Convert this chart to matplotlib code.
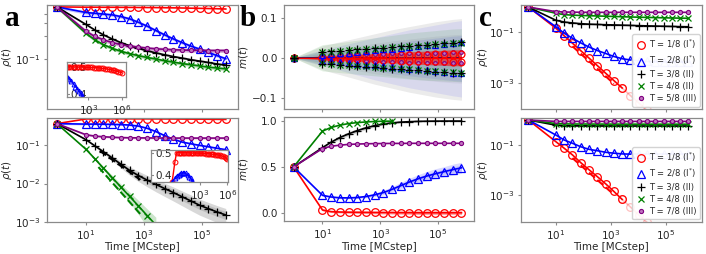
import numpy as np
import matplotlib
matplotlib.use("Agg")
import matplotlib.pyplot as plt
from matplotlib.lines import Line2D
from matplotlib.ticker import FixedLocator, NullLocator

nan = np.nan

# ---------------- data ----------------
time_steps = [1, 10, 20, 40, 80, 160, 320, 640, 1280, 2560, 5120, 10240,
              20480, 40960, 81920, 163840, 327680, 655360]

# panel a (top): rho(t)
a_top_red = [0.5, 0.495, 0.495, 0.494, 0.494, 0.493, 0.492, 0.491, 0.49, 0.489,
             0.487, 0.485, 0.483, 0.48, 0.478, 0.475, 0.472, 0.468]
a_top_blue = [0.5, 0.42, 0.41, 0.40, 0.39, 0.37, 0.345, 0.31, 0.275, 0.24,
              0.21, 0.185, 0.165, 0.148, 0.135, 0.122, 0.11, 0.10]
a_top_black = [0.5, 0.29, 0.245, 0.21, 0.185, 0.165, 0.15, 0.138, 0.128, 0.12,
               0.113, 0.107, 0.102, 0.097, 0.093, 0.089, 0.085, 0.082]
a_top_green = [0.5, 0.22, 0.18, 0.155, 0.138, 0.126, 0.117, 0.11, 0.104, 0.099,
               0.094, 0.09, 0.086, 0.083, 0.08, 0.077, 0.075, 0.073]
a_top_purple = [0.5, 0.235, 0.2, 0.18, 0.165, 0.155, 0.148, 0.143, 0.139, 0.136,
                0.134, 0.132, 0.131, 0.13, 0.13, 0.129, 0.129, 0.129]

# panel a (bottom)
a_bot_red = [0.37, 0.49, 0.495, 0.495, 0.495, 0.495, 0.494, 0.494, 0.493, 0.492,
             0.491, 0.49, 0.488, 0.486, 0.484, 0.482, 0.48, 0.478]
a_bot_blue = [0.37, 0.36, 0.36, 0.358, 0.355, 0.35, 0.34, 0.32, 0.28, 0.23,
              0.18, 0.145, 0.122, 0.11, 0.1, 0.092, 0.084, 0.077]
a_bot_purple = [0.37, 0.19, 0.175, 0.168, 0.163, 0.16, 0.158, 0.157, 0.156, 0.156,
                0.155, 0.155, 0.155, 0.155, 0.155, 0.155, 0.155, 0.155]
a_bot_black = [0.37, 0.141, 0.098, 0.068, 0.047, 0.032, 0.022, 0.0162, 0.0123, 0.0095,
               0.0074, 0.0058, 0.0045, 0.0035, 0.0027, 0.0022, 0.0018, 0.0015]
a_bot_green = [0.37, 0.079, 0.045, 0.0253, 0.0143, 0.0081, 0.0046, 0.0026, 0.00145,
               0.00082, nan, nan, nan, nan, nan, nan, nan, nan]
a_bot_black_fit_t = [30, 750]
a_bot_black_fit = [0.072, 0.0125]
a_bot_green_fit_t = [27, 740]
a_bot_green_fit = [0.027, 0.0016]

# insets of panel a
inset_t = [10, 15, 20, 30, 50, 70, 100, 150, 200, 300, 500, 700, 1e3, 1.5e3, 2e3,
           3e3, 5e3, 7e3, 1e4, 1.5e4, 2e4, 3e4, 5e4, 7e4, 1e5, 1.5e5, 2e5, 3e5,
           5e5, 7e5, 1e6]
inset_top_red = [0.4995, 0.4994, 0.4993, 0.4992, 0.499, 0.4989, 0.4988, 0.4986,
                 0.4985, 0.4983, 0.498, 0.4978, 0.4975, 0.4972, 0.497, 0.4966,
                 0.496, 0.4955, 0.495, 0.4943, 0.4937, 0.4928, 0.4915, 0.4905,
                 0.4893, 0.4877, 0.4865, 0.4845, 0.482, 0.48, 0.478]
inset_top_blue = [0.468, 0.46, 0.455, 0.447, 0.436, 0.428, 0.42, 0.41, 0.403,
                  0.393, 0.38, 0.37] + [nan] * 19
inset_bot_t = [1, 2, 3, 5, 7] + inset_t
inset_bot_red = [0.37, 0.46, 0.5, 0.5, 0.5, 0.4995, 0.4994, 0.4993, 0.4992, 0.499,
                 0.4989, 0.4988, 0.4986, 0.4985, 0.4983, 0.498, 0.4978, 0.4975,
                 0.4972, 0.497, 0.4966, 0.496, 0.4955, 0.495, 0.4943, 0.4937,
                 0.4928, 0.4915, 0.4905, 0.4893, 0.4877, 0.4865, 0.4845, 0.482,
                 0.477, 0.47]
inset_bot_blue = [0.37, 0.385, 0.395, 0.402, 0.406, 0.409, 0.41, 0.41, 0.407, 0.4,
                  0.393, 0.385, 0.375, 0.366] + [nan] * 22

# panel b (top): m(t) spread
b_top_black_sd = [0, 0.015, 0.0165, 0.018, 0.0195, 0.021, 0.0225, 0.024, 0.0255,
                  0.027, 0.0285, 0.03, 0.0315, 0.033, 0.0345, 0.036, 0.0375, 0.039]
b_top_green_sd = [0, 0.014, 0.0155, 0.017, 0.0185, 0.02, 0.0215, 0.023, 0.0245,
                  0.026, 0.0275, 0.029, 0.0305, 0.032, 0.0335, 0.035, 0.036, 0.037]
b_top_blue_sd = [0, 0.007, 0.009, 0.011, 0.013, 0.015, 0.017, 0.019, 0.021, 0.023,
                 0.025, 0.027, 0.029, 0.031, 0.033, 0.035, 0.037, 0.039]
b_top_purple_sd = [0, 0.005, 0.006, 0.007, 0.008, 0.008, 0.009, 0.01, 0.01, 0.011,
                   0.011, 0.012, 0.012, 0.013, 0.013, 0.013, 0.014, 0.014]
b_top_red_sd = [0, 0.002, 0.003, 0.003, 0.004, 0.004, 0.005, 0.005, 0.006, 0.006,
                0.007, 0.007, 0.008, 0.008, 0.009, 0.009, 0.01, 0.01]
b_top_gray_hi = [0, 0.03, 0.035, 0.04, 0.045, 0.05, 0.055, 0.06, 0.065, 0.07, 0.074,
                 0.078, 0.082, 0.086, 0.09, 0.093, 0.096, 0.098]
b_top_gray_lo = [0, -0.03, -0.036, -0.042, -0.048, -0.054, -0.06, -0.066, -0.071,
                 -0.076, -0.081, -0.086, -0.09, -0.094, -0.098, -0.101, -0.104, -0.106]
b_top_blue_hi = [0, 0.02, 0.025, 0.03, 0.035, 0.04, 0.045, 0.05, 0.055, 0.06, 0.065,
                 0.07, 0.074, 0.078, 0.082, 0.086, 0.09, 0.093]
b_top_blue_lo = [0, -0.02, -0.025, -0.031, -0.037, -0.043, -0.049, -0.055, -0.06,
                 -0.065, -0.07, -0.075, -0.079, -0.083, -0.087, -0.091, -0.095, -0.098]
b_top_green_hi = [0, 0.033, 0.035, 0.038, 0.041, 0.044, 0.047, 0.05, 0.053, 0.056,
                  0.059, 0.062, 0.064, 0.066, 0.068, 0.07, 0.072, 0.073]
b_top_green_lo = [0, -0.033, -0.035, -0.037, -0.039, -0.041, -0.043, -0.045, -0.047,
                  -0.049, -0.051, -0.053, -0.055, -0.056, -0.057, -0.058, -0.059, -0.06]
b_top_red_band = [0, 0.005, 0.006, 0.007, 0.008, 0.009, 0.01, 0.011, 0.012, 0.013,
                  0.014, 0.015, 0.016, 0.017, 0.018, 0.019, 0.02, 0.02]

# panel b (bottom): m(t)
b_bot_green = [0.5, 0.89, 0.93, 0.955, 0.972, 0.983, 0.99, 0.995, 0.998, 0.999,
               nan, nan, nan, nan, nan, nan, nan, nan]
b_bot_black = [0.5, 0.71, 0.77, 0.82, 0.86, 0.895, 0.925, 0.95, 0.968, 0.98, 0.988,
               0.993, 0.996, 0.998, 0.999, 0.9995, 1.0, 1.0]
b_bot_purple = [0.5, 0.70, 0.725, 0.737, 0.745, 0.749, 0.752, 0.754, 0.755, 0.756,
                0.756, 0.757, 0.757, 0.757, 0.757, 0.757, 0.757, 0.757]
b_bot_blue = [0.5, 0.19, 0.172, 0.163, 0.162, 0.166, 0.177, 0.195, 0.22, 0.255,
              0.295, 0.335, 0.37, 0.4, 0.425, 0.448, 0.47, 0.49]
b_bot_red = [0.5, 0.03, 0.012, 0.008, 0.006, 0.005, 0.004, 0.003, 0.002, 0.002,
             0.001, 0.001, 0.0, 0.0, 0.0, 0.0, 0.0, 0.0]
b_bot_black_band = [0, 0.01, 0.015, 0.02, 0.02, 0.02, 0.018, 0.015, 0.01, 0.008,
                    0.005, 0.004, 0.003, 0.002, 0.001, 0.001, 0.0, 0.0]
b_bot_blue_band = [0, 0.01, 0.01, 0.01, 0.01, 0.012, 0.015, 0.02, 0.025, 0.03, 0.035,
                   0.04, 0.045, 0.05, 0.055, 0.055, 0.06, 0.06]
b_bot_red_band = [0, 0.01, 0.01, 0.01, 0.012, 0.012, 0.013, 0.014, 0.015, 0.016,
                  0.017, 0.018, 0.019, 0.02, 0.02, 0.02, 0.02, 0.02]

# panel c (top)
c_top_red = [1.0, 0.145, 0.073, 0.037, 0.0187, 0.0095, 0.0048, 0.0024, 0.00122,
             0.00062, 0.00031, 0.00016, 8e-5, nan, nan, nan, nan, nan]
c_top_blue = [1.0, 0.165, 0.092, 0.058, 0.038, 0.026, 0.019, 0.0145, 0.011, 0.009,
              0.008, 0.0074, 0.007, 0.0068, 0.0067, 0.0067, 0.0066, 0.0066]
c_top_black = [1.0, 0.3, 0.255, 0.235, 0.22, 0.21, 0.205, 0.2, 0.196, 0.192, 0.188,
               0.184, 0.18, 0.177, 0.174, 0.171, 0.168, 0.166]
c_top_green = [1.0, 0.57, 0.5, 0.48, 0.465, 0.455, 0.445, 0.435, 0.425, 0.415,
               0.405, 0.398, 0.39, 0.383, 0.377, 0.37, 0.365, 0.36]
c_top_purple = [1.0, 0.66, 0.64, 0.63, 0.625, 0.62, 0.62, 0.62, 0.62, 0.62, 0.62,
                0.62, 0.62, 0.62, 0.62, 0.62, 0.62, 0.62]
c_top_red_fit_t = [40, 1280]
c_top_red_fit = [0.028, 0.00092]

# panel c (bottom)
c_bot_red = [1.0, 0.135, 0.074, 0.04, 0.0196, 0.0102, 0.0054, 0.0028, 0.00138,
             0.00066, 0.00033, 0.00016, 8e-5, nan, nan, nan, nan, nan]
c_bot_blue = [1.0, 0.25, 0.158, 0.117, 0.085, 0.067, 0.059, 0.051, 0.047, 0.044,
              0.043, 0.043, 0.043, 0.043, 0.043, 0.043, 0.043, 0.043]
c_bot_black = [1.0, 0.62, 0.6, 0.59, 0.585, 0.58, 0.58, 0.578, 0.578, 0.577, 0.577,
               0.576, 0.576, 0.576, 0.575, 0.575, 0.575, 0.575]
c_bot_green = [1.0, 0.72, 0.7, 0.69, 0.69, 0.688, 0.686, 0.685, 0.684, 0.683, 0.682,
               0.681, 0.68, 0.68, 0.68, 0.68, 0.68, 0.68]
c_bot_purple = [1.0, 0.88, 0.88, 0.88, 0.88, 0.88, 0.88, 0.88, 0.88, 0.88, 0.88,
                0.88, 0.88, 0.88, 0.88, 0.88, 0.88, 0.88]
c_bot_red_fit_t = [40, 1280]
c_bot_red_fit = [0.03, 0.00104]

legend_top = ["T = 1/8 (I$^{*}$)", "T = 2/8 (I$^{*}$)", "T = 3/8 (II)",
              "T = 4/8 (II)", "T = 5/8 (III)"]
legend_bot = ["T = 1/8 (I$^{*}$)", "T = 2/8 (I$^{*}$)", "T = 3/8 (II)",
              "T = 4/8 (II)", "T = 7/8 (III)"]

# ---------------- style ----------------
W, H = 706, 254
fig = plt.figure(figsize=(W / 100, H / 100), dpi=100)
SPINE = "#8a8a8a"
TXT = "#262626"
TICKFS = 7.5

STY = {
    "red": dict(color="red", marker="o", mfc="none", ms=5.5, mew=0.9),
    "blue": dict(color="blue", marker="^", mfc="none", ms=5.5, mew=0.9),
    "black": dict(color="black", marker="+", ms=6, mew=0.9),
    "green": dict(color="green", marker="x", ms=4.5, mew=0.9),
    "purple": dict(color="purple", marker="o", ms=3, mfc=(0.75, 0.45, 0.75), mew=0.8),
}
ORDER = ["red", "blue", "black", "green", "purple"]


def box(l, r, top, bot):
    return [l / W, 1 - bot / H, (r - l) / W, (bot - top) / H]


def style_axes(ax, xlab=False, fs=TICKFS):
    for s in ax.spines.values():
        s.set_color(SPINE)
        s.set_linewidth(0.9)
    ax.tick_params(which="both", colors=SPINE, labelcolor=TXT, labelsize=fs,
                   length=2.5, width=0.8, pad=2)
    if xlab:
        ax.set_xlabel("Time [MCstep]", fontsize=7.5, color=TXT, labelpad=0.5)


def ylab(ax, text, xpos):
    ax.set_ylabel(text, fontsize=7.5, color=TXT)
    ax.yaxis.set_label_coords(xpos, 0.5)


def setx(ax, labels):
    ax.set_xscale("log")
    ax.xaxis.set_major_locator(FixedLocator([1e1, 1e3, 1e5]))
    ax.xaxis.set_minor_locator(NullLocator())
    if not labels:
        ax.tick_params(axis="x", labelbottom=False)


def series(ax, t, y, key, lw=1.2, **kw):
    st = dict(STY[key])
    st.update(kw)
    ax.plot(t, y, lw=lw, **st)


def band(ax, t, y, frac, color, alpha=0.25):
    y = np.asarray(y, float)
    f = np.asarray(frac, float) if np.ndim(frac) else frac
    ax.fill_between(t, y * (1 - f), y * (1 + f), color=color, alpha=alpha, lw=0)


def inset_style(ins):
    style_axes(ins)
    ins.tick_params(axis="y", direction="in", pad=-3)
    for lbl in ins.get_yticklabels():
        lbl.set_horizontalalignment("left")
        lbl.set_bbox(dict(facecolor="white", edgecolor="none", pad=0.6))
        lbl.set_zorder(5)


# ---------------- panel a top ----------------
ax = fig.add_axes(box(46.7, 237.5, 5, 109))
band(ax, time_steps, a_top_purple, 0.06, "purple", 0.3)
band(ax, time_steps, a_top_green, 0.05, "green", 0.3)
band(ax, time_steps, a_top_blue, 0.05, "blue", 0.25)
band(ax, time_steps, a_top_black, 0.03, "black", 0.2)
for key, y in zip(ORDER, [a_top_red, a_top_blue, a_top_black, a_top_green, a_top_purple]):
    series(ax, time_steps, y, key)
ax.set_yscale("log")
ax.set_ylim(0.021, 0.53)
ax.set_xlim(10 ** -0.35, 10 ** 6.22)
setx(ax, False)
ax.yaxis.set_major_locator(FixedLocator([0.1]))
ax.yaxis.set_minor_locator(FixedLocator([0.2, 0.3, 0.4]))
ax.tick_params(axis="y", which="minor", labelleft=False)
style_axes(ax)
ylab(ax, r"$\rho(t)$", -0.172)

ins = fig.add_axes(box(66.7, 125.7, 61.7, 96.7))
ins.plot(inset_t, inset_top_red, color="red", lw=1, marker="o", mfc="none", ms=3.5, mew=0.7)
ins.plot(inset_t, inset_top_blue, color="blue", lw=1, marker="^", mfc="none", ms=3.5, mew=0.7)
ins.set_xscale("log")
ins.set_xlim(10 ** 1.06, 10 ** 6.36)
ins.set_ylim(0.391, 0.518)
ins.xaxis.set_major_locator(FixedLocator([1e3, 1e6]))
ins.xaxis.set_minor_locator(NullLocator())
ins.yaxis.set_major_locator(FixedLocator([0.4, 0.5]))
inset_style(ins)

# ---------------- panel a bottom ----------------
ax = fig.add_axes(box(46.7, 237.5, 118, 221.7))
band(ax, time_steps, a_bot_purple, 0.05, "purple", 0.3)
band(ax, time_steps, a_bot_blue, 0.05, "blue", 0.25)
bk_w = [0, 0.05, 0.08, 0.1, 0.15, 0.2, 0.25, 0.3, 0.33, 0.36, 0.38, 0.4, 0.42, 0.44,
        0.45, 0.46, 0.47, 0.48]
band(ax, time_steps, a_bot_black, bk_w, "gray", 0.3)
band(ax, time_steps, a_bot_black, np.asarray(bk_w) * 0.5, "gray", 0.3)
gr_w = [0, 0.05, 0.08, 0.1, 0.15, 0.2, 0.3, 0.4, 0.5, 0.6, 0, 0, 0, 0, 0, 0, 0, 0]
band(ax, time_steps, a_bot_green, gr_w, "green", 0.2)
for key, y in zip(ORDER, [a_bot_red, a_bot_blue, a_bot_black, a_bot_green, a_bot_purple]):
    series(ax, time_steps, y, key)
ax.plot(a_bot_black_fit_t, a_bot_black_fit, color="black", ls="--", lw=1.5)
ax.plot(a_bot_green_fit_t, a_bot_green_fit, color="green", ls="--", lw=1.5)
ax.set_yscale("log")
ax.set_ylim(1e-3, 0.52)
ax.set_xlim(10 ** -0.35, 10 ** 6.22)
setx(ax, True)
ax.yaxis.set_major_locator(FixedLocator([1e-3, 1e-2, 1e-1]))
ax.yaxis.set_minor_locator(NullLocator())
style_axes(ax, xlab=True)
ylab(ax, r"$\rho(t)$", -0.172)

ins = fig.add_axes(box(151, 228.3, 150, 181.7))
ins.plot(inset_bot_t, inset_bot_red, color="red", lw=1, marker="o", mfc="none", ms=3.5, mew=0.7)
ins.plot(inset_bot_t, inset_bot_blue, color="blue", lw=1, marker="^", mfc="none", ms=3.5, mew=0.7)
ins.set_xscale("log")
ins.set_xlim(10 ** -2.3, 10 ** 6.1)
ins.set_ylim(0.37, 0.512)
ins.xaxis.set_major_locator(FixedLocator([1e3, 1e6]))
ins.xaxis.set_minor_locator(NullLocator())
ins.yaxis.set_major_locator(FixedLocator([0.4, 0.5]))
inset_style(ins)

# ---------------- panel b top ----------------
ax = fig.add_axes(box(283.5, 474, 5, 109))
ax.fill_between(time_steps, b_top_gray_lo, b_top_gray_hi, color="#b0b0b0", alpha=0.25, lw=0)
ax.fill_between(time_steps, np.asarray(b_top_gray_lo) * 0.6, np.asarray(b_top_gray_hi) * 0.6,
                color="#b0b0b0", alpha=0.2, lw=0)
ax.fill_between(time_steps, b_top_blue_lo, b_top_blue_hi, color="blue", alpha=0.08, lw=0)
ax.fill_between(time_steps, np.asarray(b_top_blue_lo) * 0.6, np.asarray(b_top_blue_hi) * 0.6,
                color="blue", alpha=0.08, lw=0)
ax.fill_between(time_steps, b_top_green_lo, b_top_green_hi, color="green", alpha=0.1, lw=0)
ax.fill_between(time_steps, np.asarray(b_top_green_lo) * 0.5, np.asarray(b_top_green_hi) * 0.5,
                color="green", alpha=0.08, lw=0)
rb = np.asarray(b_top_red_band)
ax.fill_between(time_steps, -rb, rb, color="red", alpha=0.55, lw=0)
zero = np.zeros(len(time_steps))
ax.plot(time_steps, zero, color="#400040", lw=1.2)
ax.plot(time_steps, zero, color="red", lw=0.8)
for key, sd in zip(["purple", "red", "blue", "green", "black"],
                   [b_top_purple_sd, b_top_red_sd, b_top_blue_sd, b_top_green_sd, b_top_black_sd]):
    sd = np.asarray(sd)
    st = dict(STY[key])
    st["ms"] = st["ms"] * 0.9
    ax.plot(time_steps, sd, ls="none", **st)
    ax.plot(time_steps, -sd, ls="none", **st)
ax.set_ylim(-0.128, 0.132)
ax.set_xlim(10 ** -0.35, 10 ** 6.25)
setx(ax, False)
ax.yaxis.set_major_locator(FixedLocator([-0.1, 0.0, 0.1]))
ax.yaxis.set_major_formatter(plt.FuncFormatter(lambda v, p: "\u2212%.1f" % abs(v) if v < 0 else "%.1f" % v))
style_axes(ax)
ylab(ax, r"$m(t)$", -0.176)

# ---------------- panel b bottom ----------------
ax = fig.add_axes(box(283.5, 474, 117, 221))
bb = np.asarray(b_bot_black_band)
ax.fill_between(time_steps, np.asarray(b_bot_black) - bb, np.asarray(b_bot_black) + bb,
                color="gray", alpha=0.35, lw=0)
bl = np.asarray(b_bot_blue_band)
ax.fill_between(time_steps, np.asarray(b_bot_blue) - bl, np.asarray(b_bot_blue) + bl,
                color="blue", alpha=0.15, lw=0)
ax.fill_between(time_steps, np.asarray(b_bot_blue) - bl * 0.5, np.asarray(b_bot_blue) + bl * 0.5,
                color="blue", alpha=0.12, lw=0)
rd = np.asarray(b_bot_red_band)
ax.fill_between(time_steps, np.asarray(b_bot_red) - rd, np.asarray(b_bot_red) + rd,
                color="red", alpha=0.35, lw=0)
for key, y in zip(ORDER, [b_bot_red, b_bot_blue, b_bot_black, b_bot_green, b_bot_purple]):
    series(ax, time_steps, y, key)
ax.set_ylim(-0.09, 1.044)
ax.set_xlim(10 ** -0.35, 10 ** 6.25)
setx(ax, True)
ax.yaxis.set_major_locator(FixedLocator([0.0, 0.5, 1.0]))
style_axes(ax, xlab=True)
ylab(ax, r"$m(t)$", -0.176)

# ---------------- panel c ----------------
def faded(ax, t, y, key, cut):
    t = list(t)
    y = list(y)
    series(ax, t[:cut + 1], y[:cut + 1], key)
    series(ax, t[cut:], y[cut:], key, alpha=0.25)


def legend(ax, labels):
    handles = []
    for key in ORDER:
        st = dict(STY[key])
        handles.append(Line2D([], [], ls="none", **st))
    lg = ax.legend(handles, labels, loc="lower right", fontsize=6, framealpha=0.85,
                   edgecolor="#cccccc", handletextpad=0.2, borderpad=0.4,
                   labelspacing=0.35, handlelength=1.4, borderaxespad=0.3)
    for tx in lg.get_texts():
        tx.set_color(TXT)


for top, data, fit, labels in [
    (True, [c_top_red, c_top_blue, c_top_black, c_top_green, c_top_purple],
     (c_top_red_fit_t, c_top_red_fit), legend_top),
    (False, [c_bot_red, c_bot_blue, c_bot_black, c_bot_green, c_bot_purple],
     (c_bot_red_fit_t, c_bot_red_fit), legend_bot)]:
    if top:
        ax = fig.add_axes(box(520.7, 702, 5, 109))
        ax.set_ylim(10 ** -4.04, 10 ** 0.083)
    else:
        ax = fig.add_axes(box(520.7, 702, 118, 221.7))
        ax.set_ylim(10 ** -4.07, 10 ** 0.08)
    faded(ax, time_steps, data[0], "red", 9)
    faded(ax, time_steps, data[1], "blue", 10)
    for key, y in zip(ORDER[2:], data[2:]):
        series(ax, time_steps, y, key)
    ax.plot(fit[0], fit[1], color="red", ls="--", lw=1.5)
    ax.set_yscale("log")
    ax.set_xlim(10 ** -0.28, 10 ** 6.31)
    setx(ax, not top)
    ax.yaxis.set_major_locator(FixedLocator([1e-3, 1e-1]))
    ax.yaxis.set_minor_locator(NullLocator())
    style_axes(ax, xlab=not top)
    ylab(ax, r"$\rho(t)$", -0.169)
    legend(ax, labels)

# panel letters
for letter, x in [("a", 5), ("b", 240), ("c", 479)]:
    fig.text(x / W, 1 - 26 / H, letter, fontfamily="Liberation Serif", fontweight="bold",
             fontsize=21, va="baseline", ha="left", color="black")

fig.savefig("out.png", dpi=100)
